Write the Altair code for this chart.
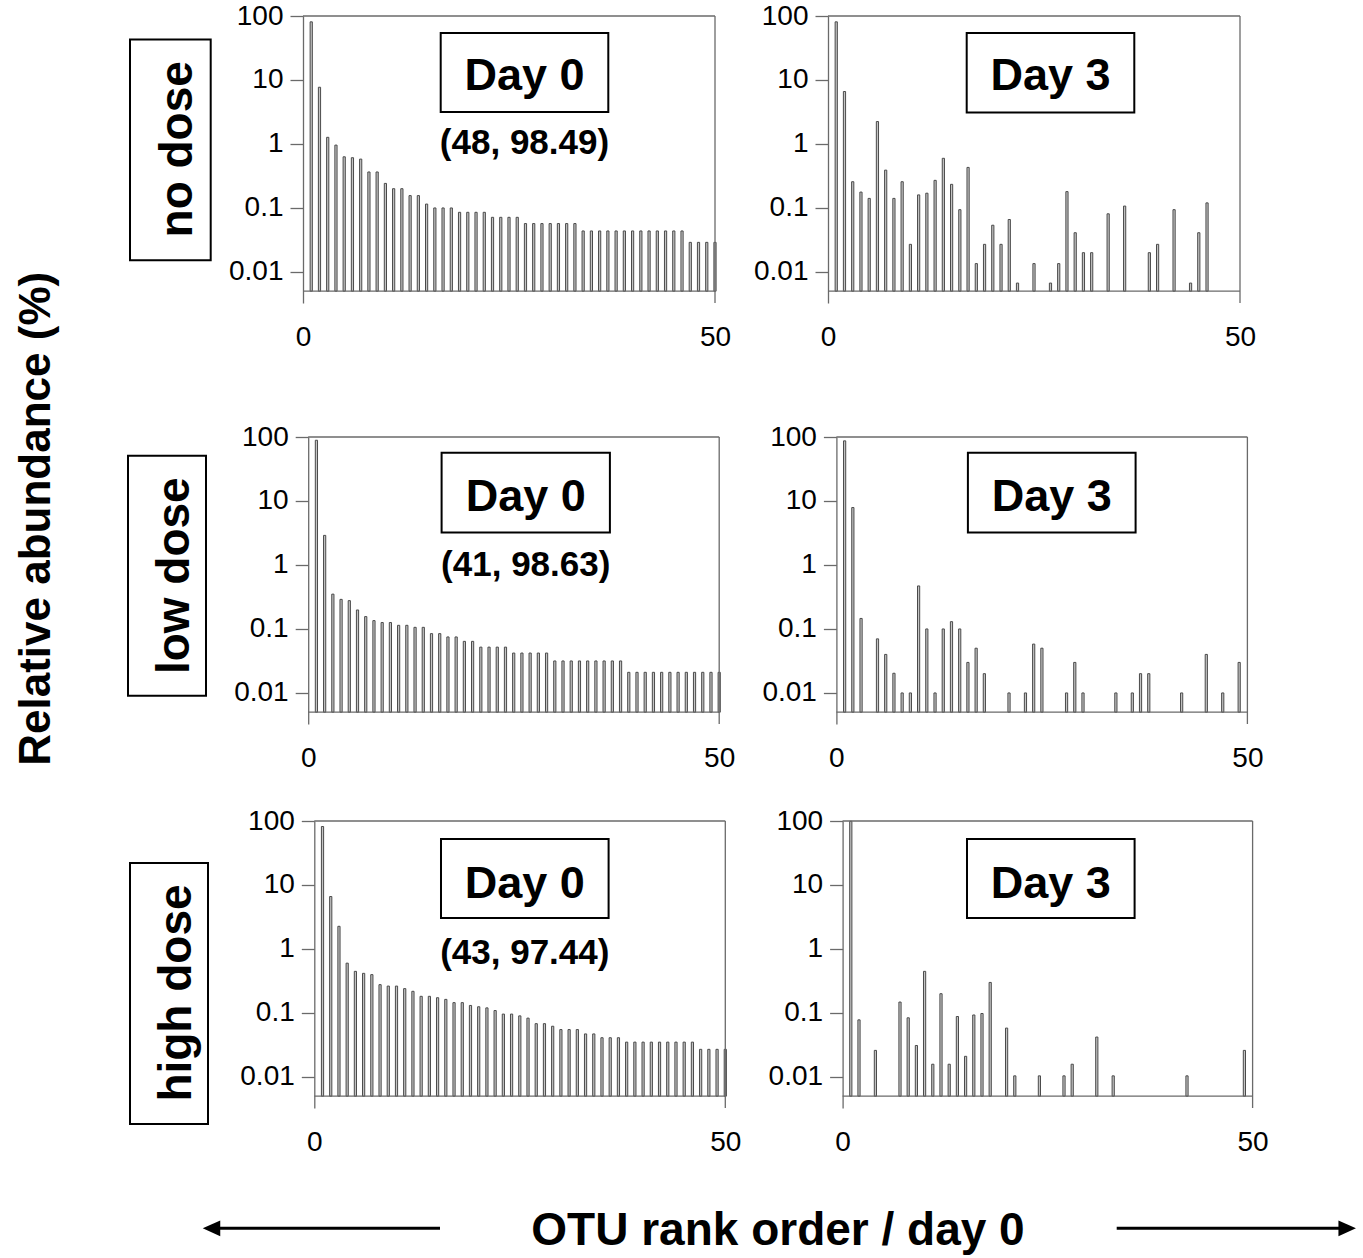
import altair as alt
import pandas as pd

FONT = "Liberation Sans"
GRAY = "#6a6a6a"
BAR_FILL = "#c4c4c4"
BAR_STROKE = "#4a4a4a"

# ---------------- data (relative abundance %, by OTU rank of day 0) ----------------
no_d0_rank = list(range(1, 51))
no_d0_val = [81, 7.7, 1.27, 0.96, 0.63, 0.61, 0.58, 0.365, 0.365, 0.242,
             0.20, 0.20, 0.156, 0.156, 0.115, 0.10, 0.10, 0.10, 0.0855, 0.0855,
             0.0855, 0.0855, 0.0714, 0.0714, 0.0714, 0.0714, 0.057, 0.057, 0.057, 0.057,
             0.057, 0.057, 0.057, 0.0437, 0.0437, 0.0437, 0.0437, 0.0437, 0.0437, 0.0437,
             0.0437, 0.0437, 0.0437, 0.0437, 0.0437, 0.0437, 0.029, 0.029, 0.029, 0.029]

no_d3_rank = [1, 2, 3, 4, 5, 6, 7, 8, 9, 10, 11, 12, 13, 14, 15, 16, 17, 18, 19, 20,
              21, 22, 23, 25, 27, 28, 29, 30, 31, 32, 34, 36, 39, 40, 42, 44, 45, 46]
no_d3_val = [81, 6.6, 0.257, 0.177, 0.141, 2.24, 0.39, 0.141, 0.257, 0.027,
             0.16, 0.17, 0.27, 0.597, 0.234, 0.094, 0.43, 0.0135, 0.027, 0.0537,
             0.027, 0.066, 0.0067, 0.0135, 0.0067, 0.0135, 0.18, 0.041, 0.02, 0.02,
             0.081, 0.107, 0.02, 0.027, 0.094, 0.0067, 0.041, 0.12]

low_d0_rank = list(range(1, 51))
low_d0_val = [89, 2.9, 0.35, 0.29, 0.277, 0.198, 0.156, 0.135, 0.126, 0.126,
              0.114, 0.114, 0.106, 0.106, 0.0845, 0.0845, 0.075, 0.075, 0.064, 0.064,
              0.052, 0.052, 0.052, 0.052, 0.042, 0.042, 0.042, 0.042, 0.042, 0.0316,
              0.0316, 0.0316, 0.0316, 0.0316, 0.0316, 0.0316, 0.0316, 0.0316, 0.021, 0.021,
              0.021, 0.021, 0.021, 0.021, 0.021, 0.021, 0.021, 0.021, 0.021, 0.021]

low_d3_rank = [1, 2, 3, 5, 6, 7, 8, 9, 10, 11, 12, 13, 14, 15, 16, 17, 18,
               21, 23, 24, 25, 28, 29, 30, 34, 36, 37, 38, 42, 45, 47, 49]
low_d3_val = [87, 7.9, 0.146, 0.07, 0.04, 0.0203, 0.01, 0.01, 0.47, 0.1,
              0.01, 0.1, 0.13, 0.1, 0.03, 0.05, 0.02,
              0.01, 0.01, 0.058, 0.05, 0.01, 0.03, 0.01, 0.01, 0.01, 0.02, 0.02,
              0.01, 0.04, 0.01, 0.03]

high_d0_rank = list(range(1, 51))
high_d0_val = [82, 6.6, 2.26, 0.60, 0.447, 0.416, 0.397, 0.277, 0.263, 0.263,
               0.24, 0.218, 0.182, 0.182, 0.173, 0.163, 0.145, 0.145, 0.131, 0.125,
               0.12, 0.109, 0.096, 0.096, 0.09, 0.083, 0.068, 0.068, 0.062, 0.055,
               0.055, 0.055, 0.047, 0.047, 0.041, 0.041, 0.041, 0.035, 0.035, 0.035,
               0.035, 0.035, 0.035, 0.035, 0.035, 0.035, 0.027, 0.027, 0.027, 0.027]

high_d3_rank = [1, 2, 4, 7, 8, 9, 10, 11, 12, 13, 14, 15, 16, 17, 18, 20, 21, 24,
                27, 28, 31, 33, 42, 49]
high_d3_val = [99, 0.078, 0.026, 0.148, 0.084, 0.031, 0.447, 0.0158, 0.2, 0.0158,
               0.088, 0.021, 0.093, 0.098, 0.30, 0.058, 0.0104, 0.0104,
               0.0104, 0.0158, 0.042, 0.0104, 0.0104, 0.026]

row_labels = ["no dose", "low dose", "high dose"]
day_labels = ["Day 0", "Day 3"]
day0_notes = ["(48, 98.49)", "(41, 98.63)", "(43, 97.44)"]
y_ticks = [0.01, 0.1, 1, 10, 100]
x_ticks = [0, 50]

series = [
    [(no_d0_rank, no_d0_val), (no_d3_rank, no_d3_val)],
    [(low_d0_rank, low_d0_val), (low_d3_rank, low_d3_val)],
    [(high_d0_rank, high_d0_val), (high_d3_rank, high_d3_val)],
]

# ---------------- layout (absolute page pixels) ----------------
YMIN = 0.00327
BASE = 0.005
H = 287
YT_W = 100                       # width of the y-title column
ROW_TOP = [15.7, 437.3, 821.0]
LEFT_X = [303.0, 307.3, 314.0]
RIGHT_X = [828.0, 835.5, 842.3]
PANEL_W = [(412, 412), (411, 411), (411, 410)]
BOTTOM_TOP = 1170.0
BOTTOM_H = 86.0
DRIFT = [1.0, 0.5]               # layout creep per row, compensated

ROW_ABOVE = [ROW_TOP[0], 20.0, 20.0]
ROW_BELOW = [ROW_TOP[1] - ROW_ABOVE[1] - ROW_TOP[0] - H - DRIFT[0],
             ROW_TOP[2] - ROW_ABOVE[2] - ROW_TOP[1] - H - DRIFT[1],
             BOTTOM_TOP - ROW_TOP[2] - H]

DAY_BOX = [
    [(440.7, 32.7, 608.3, 111.7), (966.7, 32.7, 1134.3, 112.3)],
    [(440.7, 453.0, 609.0, 532.7), (967.0, 453.0, 1134.7, 532.7)],
    [(440.7, 839.0, 608.3, 918.0), (966.7, 839.0, 1134.3, 918.0)],
]
DAY_BASE = [90.0, 511.7, 898.0]
NOTE_BASE = [153.5, 576.7, 964.0]

ROW_BOX = [(130.0, 39.3, 210.7, 260.0), (128.0, 456.0, 206.0, 696.0), (130.0, 863.0, 208.0, 1124.0)]
ROW_TEXT = [(191.7, 149.0), (189.0, 576.0), (191.0, 993.0)]

one = pd.DataFrame({"k": [0]})


def abs_rect(box, ox, oy, sw=2.0, stroke="black"):
    x1, y1, x2, y2 = box
    return alt.Chart(one).mark_rect(fill="white", stroke=stroke, strokeWidth=sw).encode(
        x=alt.value(x1 - ox), x2=alt.value(x2 - ox), y=alt.value(y1 - oy), y2=alt.value(y2 - oy))


def guide(x1, y1, x2, y2):
    # white backing area that fixes the layout bounds of a helper cell
    return alt.Chart(one).mark_rect(fill="white", strokeWidth=0).encode(
        x=alt.value(x1), x2=alt.value(x2), y=alt.value(y1), y2=alt.value(y2))


def abs_text(txt, x, y, ox, oy, size, angle=0, weight="bold"):
    return alt.Chart(pd.DataFrame({"t": [txt]})).mark_text(
        font=FONT, fontSize=size, fontWeight=weight, angle=angle, align="center",
        baseline="alphabetic", color="black").encode(
        x=alt.value(x - ox), y=alt.value(y - oy), text="t:N")


def panel(r, c):
    ranks, vals = series[r][c]
    ox = LEFT_X[r] if c == 0 else RIGHT_X[r]
    oy = ROW_TOP[r]
    w = PANEL_W[r][c]
    df = pd.DataFrame({"rank": ranks, "val": vals})
    xenc = alt.X("rank:Q", scale=alt.Scale(domain=[0, 50], nice=False, zero=False, padding=0),
                 axis=alt.Axis(values=x_ticks, title=None, ticks=False, tickSize=0, domain=False,
                               grid=False, labelFontSize=28, labelFont=FONT, labelColor="black",
                               labelPadding=20, labelFlush=False, labelOverlap=False))
    yenc = alt.Y("val:Q", scale=alt.Scale(type="log", domain=[YMIN, 100], nice=False, padding=0),
                 axis=alt.Axis(values=y_ticks, format="~g", title=None, grid=False, tickSize=13,
                               tickColor=GRAY, tickWidth=1.3, domainColor=GRAY, domainWidth=1.3,
                               labelFontSize=28, labelFont=FONT, labelColor="black",
                               labelPadding=7, labelFlush=False, labelOverlap=False))
    bars = alt.Chart(df).mark_bar(size=2.2, fill=BAR_FILL, stroke=BAR_STROKE, strokeWidth=1.0).encode(
        x=xenc, y=yenc, y2=alt.datum(BASE))
    fr = pd.DataFrame({"rank": [0, 50, 0], "rank2": [50, 50, 50],
                       "val": [100, YMIN, BASE], "val2": [100, 100, BASE]})
    frame = alt.Chart(fr).mark_rule(color=GRAY, strokeWidth=1.3).encode(
        x=xenc, x2="rank2:Q", y=yenc, y2="val2:Q")
    box = DAY_BOX[r][c]
    cx = (box[0] + box[2]) / 2
    layers = [bars, frame, abs_rect(box, ox, oy),
              abs_text(day_labels[c], cx, DAY_BASE[r], ox, oy, 45)]
    if c == 0:
        layers.append(abs_text(day0_notes[r], cx, NOTE_BASE[r], ox, oy, 35))
    return alt.layer(*layers).properties(width=w, height=H)


def label_cell(r, gap):
    ox = YT_W
    oy = ROW_TOP[r]
    w = LEFT_X[r] - YT_W - gap
    tx, ty = ROW_TEXT[r]
    return alt.layer(guide(0, -ROW_ABOVE[r], w, H + ROW_BELOW[r]),
                     abs_rect(ROW_BOX[r], ox, oy),
                     abs_text(row_labels[r], tx, ty, ox, oy, 46, angle=270)
                     ).properties(width=w, height=H)


rows = []
for r in range(3):
    gap = RIGHT_X[r] - LEFT_X[r] - PANEL_W[r][0]
    rows.append(alt.hconcat(label_cell(r, gap), panel(r, 0), panel(r, 1),
                            spacing=gap, bounds="flush"))

# bottom axis caption with arrows
BX, BY = YT_W, BOTTOM_TOP
BW = 1358 - YT_W
AY = 1228.3
bottom = alt.layer(
    guide(0, 0, BW, BOTTOM_H),
    abs_text("OTU rank order / day 0", 778.0, 1245.0, BX, BY, 46),
    alt.Chart(one).mark_rule(color="black", strokeWidth=3).encode(
        x=alt.value(212 - BX), x2=alt.value(440 - BX), y=alt.value(AY - BY)),
    alt.Chart(one).mark_rule(color="black", strokeWidth=3).encode(
        x=alt.value(1116.7 - BX), x2=alt.value(1346 - BX), y=alt.value(AY - BY)),
    alt.Chart(one).mark_point(shape="M-1,0L1,-0.9L1,0.9Z", filled=True, size=306,
                              color="black", opacity=1).encode(
        x=alt.value(211.5 - BX), y=alt.value(AY - BY)),
    alt.Chart(one).mark_point(shape="M1,0L-1,-0.9L-1,0.9Z", filled=True, size=306,
                              color="black", opacity=1).encode(
        x=alt.value(1347.2 - BX), y=alt.value(AY - BY)),
).properties(width=BW, height=BOTTOM_H)

grid = alt.vconcat(rows[0], rows[1], rows[2], bottom, spacing=0)

T0 = ROW_TOP[0]
ytitle = alt.layer(
    guide(0, -T0, YT_W, BOTTOM_TOP - T0),
    abs_text("Relative abundance (%)", 50.0, 518.5, 0, T0, 44, angle=270),
).properties(width=YT_W, height=H)

chart = alt.hconcat(ytitle, grid, spacing=0).properties(
    padding={"left": 0, "top": 0, "right": 0, "bottom": 0}
).configure(font=FONT, background="white").configure_view(stroke=None)

chart.save("out.html", embed_options={"renderer": "svg", "actions": False})
